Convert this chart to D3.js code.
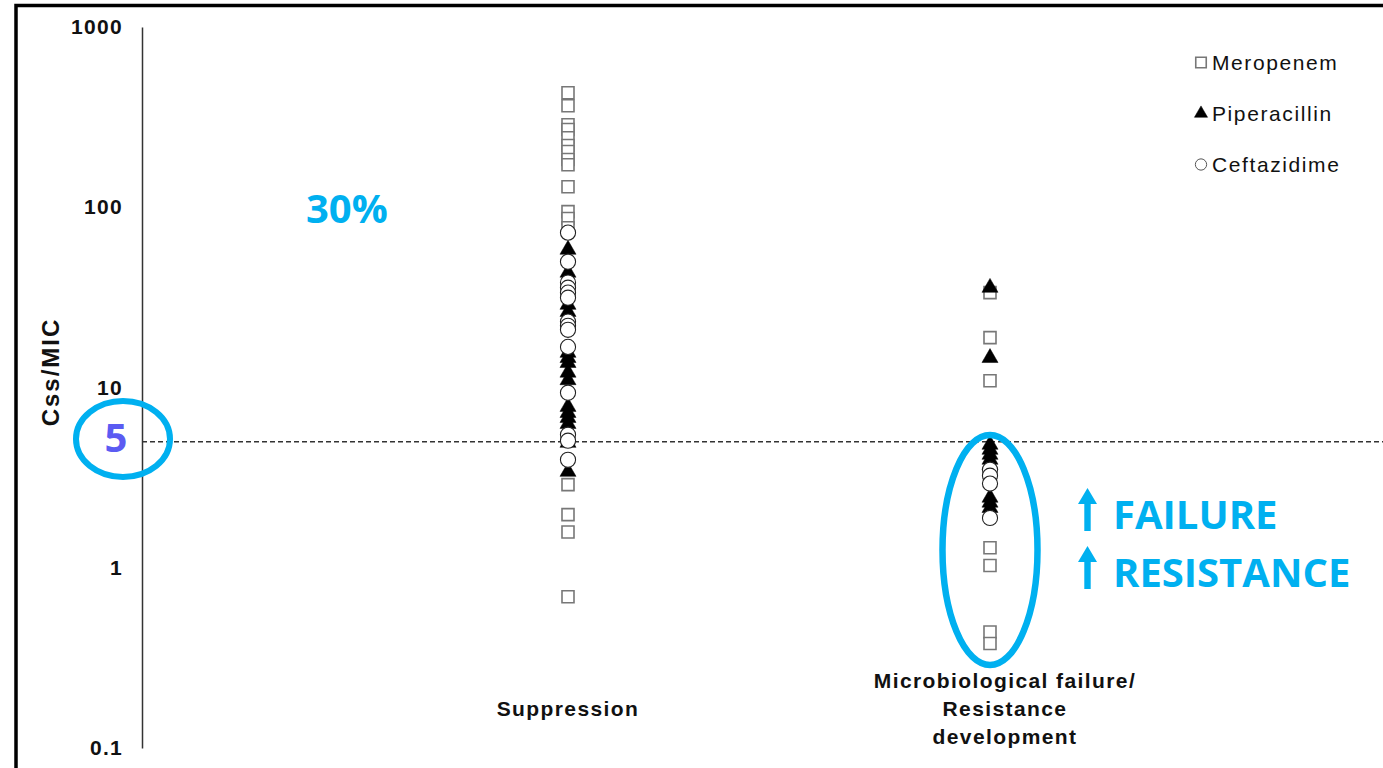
<!DOCTYPE html>
<html><head><meta charset="utf-8">
<script src="https://cdn.jsdelivr.net/npm/d3@7"></script>
<style>
html,body{margin:0;padding:0;background:#fff;overflow:hidden}
svg{display:block}
</style></head><body>
<svg id="chart" width="1383" height="768"></svg>
<script>
// ---- data ----
const categories = ["suppression", "failure"];
const categoryLabels = [["Suppression"], ["Microbiological failure/", "Resistance", "development"]];
const yTicks = [0.1, 1, 10, 100, 1000];
const yTickLabels = ["0.1", "1", "10", "100", "1000"];
const seriesNames = ["Meropenem", "Piperacillin", "Ceftazidime"];
const meropenemSuppression = [432, 366, 287, 270, 243, 220, 204, 184, 172, 130, 94.6, 86.6, 77, 2.89, 1.97, 1.58, 0.69];
const piperacillinSuppression = [58.2, 43.4, 28.8, 26.3, 15.6, 14.6, 13.7, 12.1, 11.0, 7.82, 7.24, 6.79, 6.29, 4.94, 3.41];
const ceftazidimeSuppression = [72.3, 49.9, 38.2, 35.8, 33.6, 31.5, 23.2, 22.0, 20.9, 16.8, 9.36, 5.47, 5.07, 3.97];
const meropenemFailure = [33.6, 18.9, 10.9, 1.29, 1.03, 0.44, 0.38];
const piperacillinFailure = [35.8, 14.6, 4.82, 4.52, 4.24, 3.98, 3.73, 2.45, 2.30, 2.15];
const ceftazidimeFailure = [3.50, 3.24, 2.93, 1.89];
const threshold = 5;
const thresholdLabel = "5";
const suppressionNote = "30%";
const failureNotes = ["FAILURE", "RESISTANCE"];
const yAxisTitle = "Css/MIC";

// ---- setup ----
const svg = d3.select("#chart");
const W = 1383, H = 768;
const y = d3.scaleLog().domain([0.1, 1000]).range([748, 27]);
const x = d3.scalePoint().domain(categories).range([568, 990]);
const axisX = 142;
const blue = "#00B0F0";
const txtFont = "'Liberation Sans', Arial, sans-serif";

svg.append("rect").attr("width", W).attr("height", H).attr("fill", "#fff");

// frame (top + left)
svg.append("path").attr("d", `M16,${H} V5.5 H${W}`).attr("fill", "none")
  .attr("stroke", "#000").attr("stroke-width", 3.5);

// threshold dashed line
svg.append("line").attr("x1", axisX).attr("x2", W)
  .attr("y1", y(threshold)).attr("y2", y(threshold))
  .attr("stroke", "#333").attr("stroke-width", 1.4).attr("stroke-dasharray", "5,3");

// y axis
const yAxis = svg.append("g").attr("transform", `translate(${axisX},0)`)
  .call(d3.axisLeft(y).tickValues(yTicks).tickFormat((d, i) => yTickLabels[i])
    .tickSize(0).tickSizeOuter(0).tickPadding(19));
yAxis.select(".domain").attr("stroke", "#333").attr("stroke-width", 1.5);
yAxis.selectAll(".tick text").attr("font-family", txtFont).attr("font-weight", "bold")
  .attr("font-size", 21).attr("fill", "#111").style("letter-spacing", "1.3px");

// y title
svg.append("text").attr("transform", "translate(59,372) rotate(-90)")
  .attr("text-anchor", "middle").attr("font-family", txtFont).attr("font-weight", "bold")
  .attr("font-size", 24).attr("fill", "#111").style("letter-spacing", "2px").text(yAxisTitle);

// category labels
const catDx = [0, 15];
categoryLabels.forEach((lines, i) => {
  const t = svg.append("text").attr("text-anchor", "middle").attr("font-family", txtFont)
    .attr("font-weight", "bold").attr("font-size", 21).attr("fill", "#111")
    .style("letter-spacing", "1.4px");
  const startY = lines.length > 1 ? 688 : 716;
  lines.forEach((ln, j) => {
    t.append("tspan").attr("x", x(categories[i]) + catDx[i]).attr("y", startY + j * 28).text(ln);
  });
});

// markers
const sq = d3.symbol(d3.symbolSquare, 144)();
const tri = d3.symbol(d3.symbolTriangle, 112)();
const circ = d3.symbol(d3.symbolCircle, 180)();

function drawSeries(values, cat, path, style) {
  const g = svg.append("g");
  g.selectAll("path").data(values).join("path")
    .attr("d", path)
    .attr("transform", d => `translate(${x(cat)},${y(d)})`)
    .attr("fill", style.fill).attr("stroke", style.stroke).attr("stroke-width", style.sw);
}
const meroStyle = {fill: "#fff", stroke: "#777", sw: 1.6};
const pipStyle = {fill: "#000", stroke: "#000", sw: 0.5};
const cefStyle = {fill: "#fff", stroke: "#222", sw: 1.1};

drawSeries(meropenemSuppression, "suppression", sq, meroStyle);
drawSeries(meropenemFailure, "failure", sq, meroStyle);
drawSeries(piperacillinSuppression, "suppression", tri, pipStyle);
drawSeries(piperacillinFailure, "failure", tri, pipStyle);
drawSeries(ceftazidimeSuppression, "suppression", circ, cefStyle);
drawSeries(ceftazidimeFailure, "failure", circ, cefStyle);

// legend
const legendSymbols = [
  {path: d3.symbol(d3.symbolSquare, 110)(), style: meroStyle},
  {path: d3.symbol(d3.symbolTriangle, 75)(), style: pipStyle},
  {path: d3.symbol(d3.symbolCircle, 100)(), style: {fill: "#fff", stroke: "#555", sw: 1}}
];
seriesNames.forEach((name, i) => {
  const cy = 62.5 + i * 51;
  svg.append("path").attr("d", legendSymbols[i].path)
    .attr("transform", `translate(1201,${cy})`)
    .attr("fill", legendSymbols[i].style.fill).attr("stroke", legendSymbols[i].style.stroke)
    .attr("stroke-width", legendSymbols[i].style.sw);
  svg.append("text").attr("x", 1212).attr("y", cy + 7.5).attr("font-family", txtFont)
    .attr("font-size", 21).attr("fill", "#111").style("letter-spacing", "1.6px").text(name);
});

// annotations
const annFont = "'Open Sans', 'Noto Sans', sans-serif";
svg.append("text").attr("x", 306).attr("y", 223).attr("font-family", annFont)
  .attr("font-weight", "bold").attr("font-size", 40).attr("fill", blue).text(suppressionNote);

svg.append("text").attr("x", 116).attr("y", 452).attr("text-anchor", "middle").attr("font-family", annFont)
  .attr("font-weight", "bold").attr("font-size", 40).attr("fill", "#5B5BF2").text(thresholdLabel);
svg.append("ellipse").attr("cx", 123).attr("cy", 439).attr("rx", 47).attr("ry", 38)
  .attr("fill", "none").attr("stroke", blue).attr("stroke-width", 6);

svg.append("ellipse").attr("cx", x("failure")).attr("cy", 550).attr("rx", 47.5).attr("ry", 115)
  .attr("fill", "none").attr("stroke", blue).attr("stroke-width", 6.5);

failureNotes.forEach((t, i) => {
  const base = 529 + i * 58;
  svg.append("text").attr("x", 1113).attr("y", base).attr("font-family", annFont)
    .attr("font-weight", "bold").attr("font-size", 40).attr("fill", blue).text(t);
  const top = base - 41, hx = 1087.5;
  svg.append("path")
    .attr("d", `M${hx},${top} L${hx + 9.5},${top + 16} L${hx + 3.2},${top + 16} L${hx + 3.2},${base + 2} L${hx - 3.2},${base + 2} L${hx - 3.2},${top + 16} L${hx - 9.5},${top + 16} Z`)
    .attr("fill", blue);
});
</script>
</body></html>
